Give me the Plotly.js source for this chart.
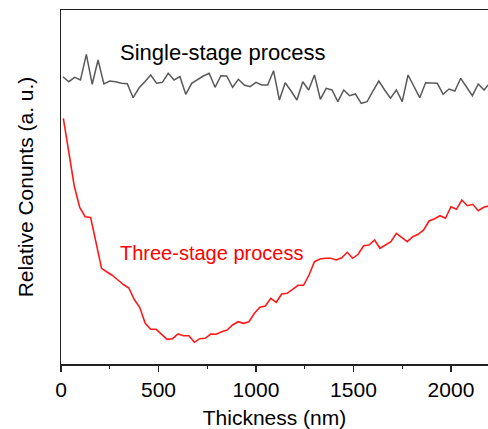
<!DOCTYPE html>
<html>
<head>
<meta charset="utf-8">
<script src="https://cdn.plot.ly/plotly-3.0.1.min.js"></script>
<style>
  html, body { margin: 0; padding: 0; background: #fff; }
  #chart { width: 488px; height: 429px; }
</style>
</head>
<body>
<div id="chart"></div>
<script>
// Depth profiles: thickness in nm, relative counts in arbitrary units.
const singleThickness = [
  10, 40, 70, 100, 130, 160, 190, 220, 250, 280,
  310, 340, 370, 400, 430, 460, 490, 520, 550, 580,
  610, 640, 670, 700, 730, 760, 790, 820, 850, 880,
  910, 940, 970, 1000, 1030, 1060, 1090, 1120, 1150, 1180,
  1210, 1240, 1270, 1300, 1330, 1360, 1390, 1420, 1450, 1480,
  1510, 1540, 1570, 1600, 1630, 1660, 1690, 1720, 1750, 1780,
  1810, 1840, 1870, 1900, 1930, 1960, 1990, 2020, 2050, 2080,
  2110, 2140, 2170, 2200
];
const singleCounts = [
  287.3, 282.3, 286.7, 284.0, 309.7, 279.7, 304.0, 280.0, 283.0, 282.3,
  280.7, 280.3, 266.3, 276.0, 282.3, 289.0, 280.7, 281.7, 290.7, 284.0,
  287.3, 269.7, 280.7, 284.7, 288.0, 290.7, 276.7, 288.3, 288.0, 276.7,
  284.7, 279.0, 277.3, 281.7, 279.0, 279.0, 293.3, 264.0, 281.3, 273.0,
  264.0, 282.3, 274.0, 289.0, 264.7, 275.7, 274.0, 262.3, 274.0, 268.3,
  270.0, 260.7, 262.3, 273.0, 283.0, 274.0, 265.7, 274.0, 262.3, 289.0,
  278.0, 266.3, 281.3, 281.0, 280.7, 269.7, 275.0, 273.0, 285.7, 277.0,
  268.3, 280.0, 274.0, 281.3
];

const threeThickness = [
  12, 40, 68, 96, 124, 152, 180, 208, 236, 264,
  292, 320, 348, 376, 404, 432, 460, 488, 516, 544,
  572, 600, 628, 656, 684, 712, 740, 768, 796, 824,
  852, 880, 908, 936, 964, 992, 1020, 1048, 1076, 1104,
  1132, 1160, 1188, 1216, 1244, 1272, 1300, 1328, 1356, 1384,
  1412, 1440, 1468, 1496, 1524, 1552, 1580, 1608, 1636, 1664,
  1692, 1720, 1748, 1776, 1804, 1832, 1860, 1888, 1916, 1944,
  1972, 2000, 2028, 2056, 2084, 2112, 2140, 2168, 2196
];
const threeCounts = [
  245.7, 212.0, 178.0, 156.5, 147.3, 146.5, 121.0, 95.7, 92.0, 88.5,
  84.0, 79.5, 76.0, 64.5, 56.5, 40.7, 34.7, 34.7, 29.7, 24.7,
  25.3, 30.0, 28.3, 28.3, 21.7, 25.3, 25.7, 30.0, 29.7, 32.3,
  34.0, 39.0, 42.3, 40.7, 42.3, 50.7, 56.7, 58.0, 65.7, 61.7,
  70.0, 70.7, 74.7, 78.7, 78.7, 89.0, 102.3, 105.0, 105.7, 105.7,
  104.0, 106.3, 111.7, 105.7, 109.7, 118.3, 119.0, 124.0, 115.7, 119.0,
  122.3, 130.7, 126.5, 122.3, 127.3, 129.7, 134.0, 143.0, 145.3, 148.3,
  145.7, 157.3, 154.7, 164.0, 158.3, 159.7, 153.3, 156.7, 158.3
];

const xTickVals = [0, 500, 1000, 1500, 2000];
const seriesLabels = ['Single-stage process', 'Three-stage process'];

const FONT = 'Arial, "Liberation Sans", sans-serif';

const traces = [
  {
    x: singleThickness, y: singleCounts, type: 'scatter', mode: 'lines',
    line: { color: '#5a5a5a', width: 1.5 }, name: seriesLabels[0],
    hoverinfo: 'skip'
  },
  {
    x: threeThickness, y: threeCounts, type: 'scatter', mode: 'lines',
    line: { color: '#ff1a1a', width: 1.6 }, name: seriesLabels[1],
    hoverinfo: 'skip'
  }
];

const layout = {
  width: 488, height: 429,
  margin: { l: 61, r: 0, t: 10, b: 65 },
  paper_bgcolor: '#fff', plot_bgcolor: '#fff',
  showlegend: false,
  font: { family: FONT, size: 21, color: '#000' },
  xaxis: {
    range: [0, 2190], showgrid: false, zeroline: false,
    showline: true, linecolor: '#222', linewidth: 1.5, mirror: true,
    ticks: 'outside', ticklen: 6, tickwidth: 1.2, tickcolor: '#222',
    tickvals: xTickVals, ticktext: xTickVals.map(String),
    tickfont: { family: FONT, size: 21, color: '#000' },
    minor: { ticks: 'outside', ticklen: 3, tickwidth: 1.2, tickcolor: '#222', dtick: 250, showgrid: false },
    title: { text: 'Thickness (nm)', font: { family: FONT, size: 21, color: '#000' }, standoff: 12 }
  },
  yaxis: {
    range: [0, 354], showgrid: false, zeroline: false,
    showline: true, linecolor: '#222', linewidth: 1.5,
    ticks: '', showticklabels: false,
    title: { text: 'Relative Conunts (a. u.)', font: { family: FONT, size: 21, color: '#000' }, standoff: 20 }
  },
  annotations: [
    {
      text: seriesLabels[0], x: 294, y: 312, xref: 'x', yref: 'y',
      xanchor: 'left', yanchor: 'middle', showarrow: false,
      font: { family: FONT, size: 22, color: '#000' }
    },
    {
      text: seriesLabels[1], x: 294, y: 111, xref: 'x', yref: 'y',
      xanchor: 'left', yanchor: 'middle', showarrow: false,
      font: { family: FONT, size: 20, color: '#ff0000' }
    }
  ]
};

Plotly.newPlot('chart', traces, layout, { displayModeBar: false, staticPlot: true });
</script>
</body>
</html>
